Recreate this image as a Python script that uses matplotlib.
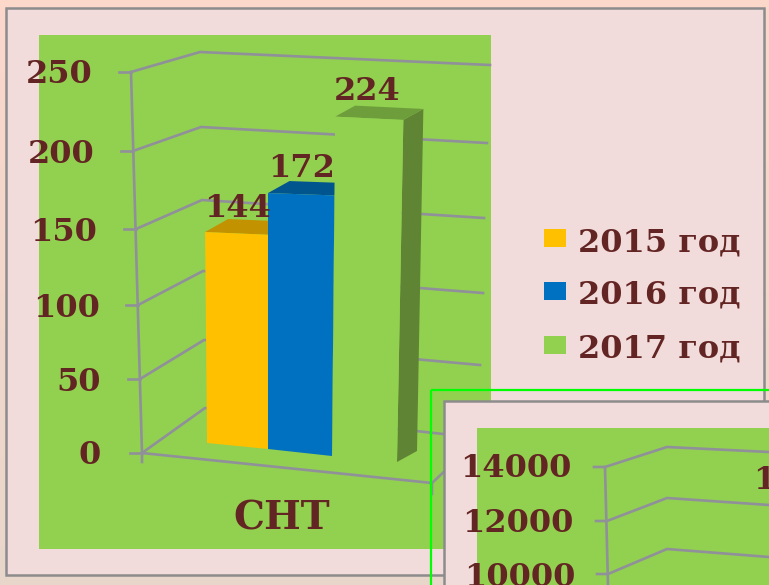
#!/usr/bin/env python3
"""Pseudo-3D column chart with a second chart panel overlapping the corner."""

import matplotlib

matplotlib.use("Agg")
import matplotlib.pyplot as plt
import numpy as np
from matplotlib.patches import Polygon, Rectangle

years = ["2015 год", "2016 год", "2017 год"]
values = [144, 172, 224]
category = "СНТ"
ticks = [0, 50, 100, 150, 200, 250]
second_ticks = [10000, 12000, 14000]
second_labels = ["10000", "12000", "14000"]

INK = "#632523"
GRID = "#90909A"
PINK = "#F2DCDB"
LEAF = "#92D050"
FACES = ["#FFC000", "#0070C0", "#92D050"]
TOPS = ["#C29200", "#00558F", "#6E9E3C"]
SIDES = ["#C29200", "#00558F", "#5F8434"]
FONT = "DejaVu Serif"

# screen geometry of the fake 3D box, one entry per tick
front_x = [142, 140, 138, 136, 133, 131]
front_y = [453, 379, 305, 229, 151, 72]
back_x = [205, 204, 203, 202, 201, 200]
back_y = [408, 340, 271, 200, 127, 52]
right_x = [480, 480, 483, 484, 487, 490]
right_y = [438, 365, 293, 218, 143, 65]
# column row edges along the floor
edge_x = [207, 268, 332, 397]
edge_y = [443, 449, 456, 462]
edge_scale = [1.465, 1.488, 1.515, 1.527]


def front(pos, value):
    xb, yb = edge_x[pos], edge_y[pos]
    return xb + (xb - 268) * 0.00022 * value, yb - edge_scale[pos] * value


def txt(ax, x, y, s, size=23, ha="center", zorder=6):
    ax.text(x, y, s, fontsize=size, fontweight="bold", family=FONT, color=INK,
            ha=ha, va="center_baseline", zorder=zorder)


fig = plt.figure(figsize=(7.69, 5.85), dpi=100)
ax = fig.add_axes([0, 0, 1, 1])
ax.set_xlim(0, 769)
ax.set_ylim(585, 0)
ax.axis("off")

# page background runs peach to a duller tone towards the bottom
gradient = np.linspace(0, 1, 64)[:, None, None]
top_col = np.array([251, 216, 202]) / 255
bot_col = np.array([233, 214, 203]) / 255
ax.imshow(top_col + (bot_col - top_col) * gradient, extent=[0, 769, 585, 0],
          aspect="auto", zorder=0)

ax.add_patch(Rectangle((6, 8), 758, 567, fc=PINK, ec="#8C8C8C", lw=1.8, zorder=1))
ax.add_patch(Rectangle((39, 35), 452, 514, fc=LEAF, ec="none", zorder=1.5))

# walls and gridlines of the 3D box
for i in range(len(ticks)):
    ax.plot([front_x[i] - 12, front_x[i]], [front_y[i], front_y[i]], color=GRID, lw=1.9, zorder=2)
    ax.plot([front_x[i], back_x[i], right_x[i]], [front_y[i], back_y[i], right_y[i]],
            color=GRID, lw=1.9, zorder=2)
ax.plot([front_x[-1], front_x[0], front_x[0]], [front_y[-1], front_y[0], 462],
        color=GRID, lw=1.9, zorder=2)
ax.plot([142, 432, 432], [front_y[0], 483, 494], color=GRID, lw=1.9, zorder=2)
ax.plot([432, 480], [483, 438], color=GRID, lw=1.9, zorder=2)

# columns, back to front so that each side is covered by the next face
label_gap = [27, 28, 29]
for i, v in enumerate(values):
    l_top, r_top = front(i, v), front(i + 1, v)
    l_bot, r_bot = front(i, 0), front(i + 1, 0)
    dx, dy = 23 - i * 1.5, -13 + i * 1.0
    ax.add_patch(Polygon([r_top, (r_top[0] + dx, r_top[1] + dy),
                          (r_bot[0] + dx, r_bot[1] + dy), r_bot],
                         fc=SIDES[i], ec="none", zorder=3 + i * 0.1))
    ax.add_patch(Polygon([l_top, (l_top[0] + dx, l_top[1] + dy),
                          (r_top[0] + dx, r_top[1] + dy), r_top],
                         fc=TOPS[i], ec="none", zorder=3 + i * 0.1))
    ax.add_patch(Polygon([l_top, r_top, r_bot, l_bot], fc=FACES[i], ec="none",
                         zorder=3.05 + i * 0.1))
    cx = (l_top[0] + r_top[0]) / 2
    txt(ax, cx + (1 if i == 0 else 0 if i == 1 else -2), l_top[1] - label_gap[i], str(v))

tick_right = [101, 101, 100, 97, 95, 93]
tick_center = [452, 379, 305, 229, 151, 71]
for v, x, y in zip(ticks, tick_right, tick_center):
    txt(ax, x, y, str(v), ha="right")
txt(ax, 282, 515, category, size=28)

# legend
for name, col, y in zip(years, FACES, [238, 291, 345]):
    ax.add_patch(Rectangle((544, y - 9), 22, 18, fc=col, ec="none", zorder=3))
    txt(ax, 578, y + 1, name, ha="left")

# second chart, cut off by the page edge
ax.add_patch(Rectangle((431, 390), 400, 300, fc="none", ec="#00FF00", lw=1.6, zorder=8))
ax.add_patch(Rectangle((444, 401), 400, 300, fc=PINK, ec="#8C8C8C", lw=1.8, zorder=7))
ax.add_patch(Rectangle((477, 428), 400, 300, fc=LEAF, ec="none", zorder=7.1))
for v, label, y, by, ry, fx, lx, ly in zip(
    second_ticks, second_labels,
    [574, 521, 467], [549, 498, 447], [557, 505, 452],
    [608, 607, 605], [575, 573, 572], [574, 520, 465],
):
    ax.plot([fx - 11, fx, 667, 769], [y, y, by, ry], color=GRID, lw=1.9, zorder=7.2)
    txt(ax, lx, ly, label, ha="right", zorder=7.5)
ax.plot([605, 608], [467, 585], color=GRID, lw=1.9, zorder=7.2)
txt(ax, 753, 477, "1", ha="left", zorder=7.5)

fig.savefig("out.png", dpi=100)
plt.close(fig)
